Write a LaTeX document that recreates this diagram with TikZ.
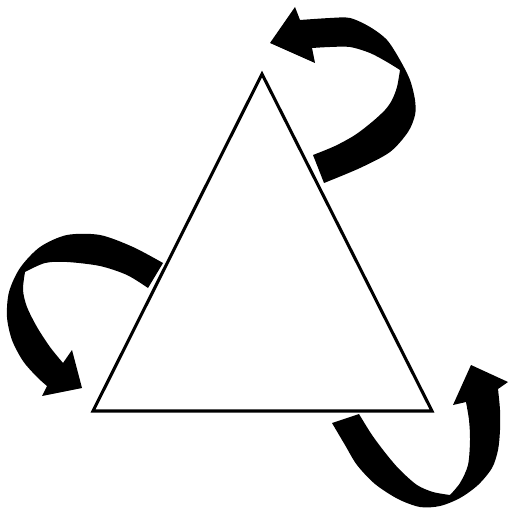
\documentclass[tikz,border=0pt]{standalone}
\begin{document}
\begin{tikzpicture}[x=0.75pt,y=-0.75pt,
  tri/.style={draw=black,line width=2.3pt,line join=miter,fill=white},
  ribbon/.style={fill=black}]
\useasboundingbox (0,0) rectangle (508,510);
% triangle
\coordinate (top) at (262,74);
\coordinate (bl) at (93,411);
\coordinate (br) at (432,411);
\draw[tri] (top) -- (br) -- (bl) -- cycle;
% arrow 1 (top right)
\fill[ribbon] (270,43) -- (295,7) -- (300,20)
  -- plot[smooth] coordinates {(300,20) (330,18) (350,18) (370,27) (387,40) (400,60) (410,80) (415,100) (415,115) (408,132) (390,152) (360,168) (324,183)}
  -- plot[smooth] coordinates {(313,155) (335,146) (355,135) (372,122) (385,110) (392,100) (397,87) (400,70)}
  -- plot[smooth] coordinates {(400,70) (387,62) (370,53) (350,47) (330,47) (312,48)}
  -- (315,63) -- cycle;
% arrow 2 (left)
\fill[ribbon] (82,388) -- (42,396) -- (47,386)
  -- plot[smooth] coordinates {(47,386) (37,377) (23,361) (12,340) (7,317) (9,292) (20,268) (40,247) (67,235) (100,235) (133,247) (163,263)}
  -- plot[smooth] coordinates {(148,288) (127,275) (100,266) (67,262) (45,263) (25,272)}
  -- plot[smooth] coordinates {(25,272) (23,290) (27,307) (37,327) (50,347) (63,363)}
  -- (72,350) -- cycle;
% arrow 3 (bottom right)
\fill[ribbon] (471,365) -- (508,382) -- (498,389)
  -- plot[smooth] coordinates {(498,389) (500,410) (500,430) (498,450) (492,468) (478,485) (460,498) (440,506) (420,507) (398,499) (375,484) (357,465) (345,445) (332,423)}
  -- plot[smooth] coordinates {(359,414) (372,435) (387,455) (400,470) (417,485) (433,492) (450,495)}
  -- plot[smooth] coordinates {(450,495) (460,483) (468,465) (470,440) (469,420) (466,402)}
  -- (453,405) -- cycle;
\end{tikzpicture}
\end{document}
